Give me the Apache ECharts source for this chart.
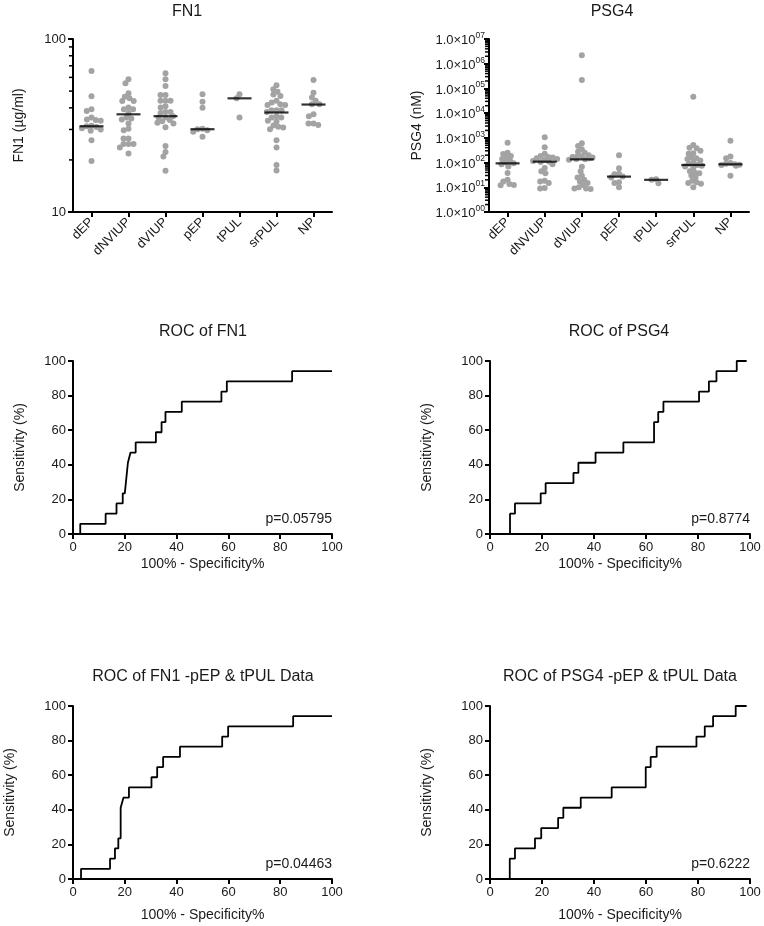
<!DOCTYPE html>
<html><head><meta charset="utf-8">
<script src="https://cdn.jsdelivr.net/npm/echarts@6/dist/echarts.min.js"></script>
<style>html,body{margin:0;padding:0;background:#fff}#c{width:764px;height:926px}</style>
</head><body><div id="c"></div>
<script>
// ---------- DATA ----------
const groups = ['dEP','dNVIUP','dVIUP','pEP','tPUL','srPUL','NP'];

// FN1 (µg/ml)
const fn1_dEP    = [65.3,46.7,39.2,38.4,35.2,34.3,34.0,33.7,31.5,31.3,31.0,30.5,30.0,29.5,26.0,19.7];
const fn1_dNVIUP = [58.5,55.5,48.5,46.4,45.4,43.8,43.8,40.2,39.2,39.2,37.4,35.2,34.7,34.3,32.5,30.3,29.7,26.6,26.6,24.7,24.7,24.7,23.6,21.8];
const fn1_dVIUP  = [63.4,58.5,53.5,47.4,47.4,43.9,43.9,43.9,40.9,40.2,37.9,37.9,37.4,35.8,35.2,35.2,34.0,33.5,32.8,32.5,30.9,24.1,22.2,20.9,17.3];
const fn1_pEP    = [47.9,43.4,40.0,30.3,30.1,29.7,29.1,27.2];
const fn1_tPUL   = [47.9,45.4,35.2];
const fn1_srPUL  = [54.0,51.3,49.5,47.7,46.9,43.9,43.0,42.0,41.5,41.5,38.8,38.8,38.8,37.9,35.8,35.2,35.2,33.7,33.3,31.6,31.1,30.8,30.1,26.0,23.6,18.7,17.4];
const fn1_NP     = [57.9,48.9,45.9,43.9,42.0,42.0,36.7,35.8,32.5,32.5,31.8];
const fn1_median = [31.3,36.7,35.8,30.1,45.4,37.6,41.8];

// PSG4 (nM)
const psg_dEP    = [630,250,220,185,160,140,120,100,93,85,70,38,20,17,13.5,12.3,12];
const psg_dNVIUP = [1050,415,225,185,170,160,150,140,130,115,110,105,85,60,45,37,18.5,17,15,9.3,9];
const psg_dVIUP  = [2.2e6,2.2e5,600,470,350,275,250,200,180,175,170,160,150,140,135,130,68,45,29,25,20,17,15,12.3,10,9,9,8.5];
const psg_pEP    = [200,59,35,34,27,25,16,15,10];
const psg_tPUL   = [21,20,14.5];
const psg_srPUL  = [46000,510,400,380,300,240,230,160,150,140,120,100,90,80,75,70,60,45,40,37,30,25,18.5,16,15,14,10];
const psg_NP     = [770,175,150,95,90,85,82,80,75,29];
const psg_median = [93,109,135,27,20,80,85];

// ROC curves: [100% - specificity%, sensitivity%]
const rocFN1 = [[0,0],[2.8,0],[2.8,5.88],[12.6,5.88],[12.6,11.76],[16.8,11.76],[16.8,17.65],[19.2,17.65],[19.2,23.53],[20.0,23.53],[20.4,29.41],[21.2,41.18],[22.2,47.06],[24.2,47.06],[24.2,52.94],[32.0,52.94],[32.0,58.82],[34.2,58.82],[34.2,64.71],[35.7,64.71],[35.7,70.59],[42.0,70.59],[42.0,76.47],[57.3,76.47],[57.3,82.35],[59.4,82.35],[59.4,88.24],[84.6,88.24],[84.6,94.12],[100,94.12]];
const rocPSG4 = [[0,0],[7.7,0],[7.7,11.76],[9.6,11.76],[9.6,17.65],[19.5,17.65],[19.5,23.53],[21.4,23.53],[21.4,29.41],[32.1,29.41],[32.1,35.29],[34.0,35.29],[34.0,41.18],[40.6,41.18],[40.6,47.06],[51.3,47.06],[51.3,52.94],[63.1,52.94],[63.1,64.71],[64.7,64.71],[64.7,70.59],[66.7,70.59],[66.7,76.47],[80.4,76.47],[80.4,82.35],[84.2,82.35],[84.2,88.24],[87.1,88.24],[87.1,94.12],[94.9,94.12],[94.9,100],[98.7,100]];
const rocFN1b = [[0,0],[3.1,0],[3.1,5.88],[14.3,5.88],[14.3,11.76],[16.2,11.76],[16.2,17.65],[17.5,17.65],[17.5,23.53],[18.4,23.53],[18.4,41.18],[19.5,47.06],[21.6,47.06],[21.6,52.94],[30.3,52.94],[30.3,58.82],[32.5,58.82],[32.5,64.71],[34.8,64.71],[34.8,70.59],[41.3,70.59],[41.3,76.47],[57.6,76.47],[57.6,82.35],[59.9,82.35],[59.9,88.24],[85.0,88.24],[85.0,94.12],[100,94.12]];
const rocPSG4b = [[0,0],[7.6,0],[7.6,11.76],[9.6,11.76],[9.6,17.65],[17.3,17.65],[17.3,23.53],[19.7,23.53],[19.7,29.41],[26.2,29.41],[26.2,35.29],[28.2,35.29],[28.2,41.18],[34.9,41.18],[34.9,47.06],[46.8,47.06],[46.8,52.94],[59.9,52.94],[59.9,64.71],[61.8,64.71],[61.8,70.59],[64.1,70.59],[64.1,76.47],[79.4,76.47],[79.4,82.35],[82.6,82.35],[82.6,88.24],[85.8,88.24],[85.8,94.12],[94.5,94.12],[94.5,100],[98.7,100]];

const titles = ['FN1','PSG4','ROC of FN1','ROC of PSG4','ROC of FN1 -pEP & tPUL Data','ROC of PSG4 -pEP & tPUL Data'];
const pValues = ['p=0.05795','p=0.8774','p=0.04463','p=0.6222'];
const yNames = ['FN1 (µg/ml)','PSG4 (nM)','Sensitivity (%)','Sensitivity (%)','Sensitivity (%)','Sensitivity (%)'];
const xName = '100% - Specificity%';

// ---------- LAYOUT / STYLE ----------
const FONT = "'Liberation Sans', Arial, Helvetica, sans-serif";
const TXT = '#1a1a1a';
const PT = '#a3a3a3';
const grids = [
  {left:73, top:39, width:259, height:173},
  {left:489, top:39, width:260, height:173},
  {left:73, top:361, width:259, height:173},
  {left:490, top:361, width:260, height:173},
  {left:73, top:706, width:259, height:173},
  {left:490, top:706, width:260, height:173}
];
const titlePos = [[187,12],[612,12],[203,332],[619,332],[203,677],[620,677]];
const yNameGap = [47,65,46,56,56,56];
const xNameGap = [0,0,23,23,29,29];

const fn1Groups = [fn1_dEP,fn1_dNVIUP,fn1_dVIUP,fn1_pEP,fn1_tPUL,fn1_srPUL,fn1_NP];
const psgGroups = [psg_dEP,psg_dNVIUP,psg_dVIUP,psg_pEP,psg_tPUL,psg_srPUL,psg_NP];

// minor tick positions of the log axes (2..9 × each decade)
const minorFN1 = [];
for (let m = 2; m <= 9; m++) minorFN1.push(m * 10);
const minorPSG = [];
for (let e = 0; e < 7; e++) for (let m = 2; m <= 9; m++) minorPSG.push(m * Math.pow(10, e));

function axisLine() { return {show:true, onZero:false, lineStyle:{color:'#000', width:2}}; }
function axisTick(len) { return {show:true, length:len, lineStyle:{color:'#000', width:2}}; }
function label(extra) { return Object.assign({color:TXT, fontFamily:FONT, fontSize:13}, extra||{}); }
const nameStyle = {color:TXT, fontFamily:FONT, fontSize:14};

const xAxes = [], yAxes = [];
for (let i = 0; i < 6; i++) {
  if (i < 2) {
    xAxes.push({type:'category', gridIndex:i, data:groups, boundaryGap:true,
      axisLine:axisLine(), axisTick:Object.assign(axisTick(5),{alignWithLabel:true}),
      axisLabel:label({rotate:45, margin:8, interval:0}), splitLine:{show:false}});
  } else {
    xAxes.push({type:'value', gridIndex:i, min:0, max:100, interval:20,
      name:xName, nameLocation:'middle', nameGap:xNameGap[i], nameTextStyle:nameStyle,
      axisLine:axisLine(), axisTick:axisTick(5), axisLabel:label({margin:7}), splitLine:{show:false}});
  }
}
yAxes.push({type:'log', logBase:10, gridIndex:0, min:10, max:100,
  name:yNames[0], nameLocation:'middle', nameRotate:90, nameGap:yNameGap[0], nameTextStyle:nameStyle,
  axisLine:axisLine(), axisTick:axisTick(5), axisLabel:label({margin:7}), splitLine:{show:false}, minorTick:{show:false}});
yAxes.push({type:'log', logBase:10, gridIndex:1, min:1, max:1e7, splitNumber:7,
  name:yNames[1], nameLocation:'middle', nameRotate:90, nameGap:yNameGap[1], nameTextStyle:nameStyle,
  axisLine:axisLine(), axisTick:axisTick(5), splitLine:{show:false},
  axisLabel:{margin:4, formatter:function(v){
      const e = Math.round(Math.log10(v));
      return '{m|1.0×10}{s|' + String(e).padStart(2,'0') + '}';
    },
    rich:{ m:{fontFamily:FONT, fontSize:13, color:TXT, lineHeight:16, verticalAlign:'bottom'},
           s:{fontFamily:FONT, fontSize:8.5, color:TXT, lineHeight:16, verticalAlign:'top'} } }});
for (let i = 2; i < 6; i++) {
  yAxes.push({type:'value', gridIndex:i, min:0, max:100, interval:20,
    name:yNames[i], nameLocation:'middle', nameRotate:90, nameGap:yNameGap[i], nameTextStyle:nameStyle,
    axisLine:axisLine(), axisTick:axisTick(5), axisLabel:label({margin:7}), splitLine:{show:false}});
}

function pointsData(groupArrays, offsets) {
  const out = [];
  groupArrays.forEach(function(arr, ci){
    arr.forEach(function(v, j){
      const item = {value:[ci, v]};
      if (offsets) item.symbolOffset = [offsets[ci][j], 0];
      out.push(item);
    });
  });
  return out;
}
// minor ticks drawn with a custom series through the y axis' own log scale
function minorTickSeries(idx, vals) {
  return {type:'custom', coordinateSystem:'cartesian2d', xAxisIndex:idx, yAxisIndex:idx, silent:true, z:10, clip:false,
    encode:{x:0, y:1},
    data: vals.map(function(v){ return [groups[0], v]; }),
    renderItem: function(params, api){
      const p = api.coord([api.value(0), api.value(1)]);
      const g = grids[idx];
      return {type:'line', z2:10, shape:{x1:g.left - 4, y1:p[1], x2:g.left, y2:p[1]},
        style:{stroke:'#000', lineWidth:1.5, fill:null}};
    }};
}
function medianSeries(idx, meds) {
  return {type:'scatter', xAxisIndex:idx, yAxisIndex:idx, symbol:'rect', symbolSize:[24,2.2], z:4,
    itemStyle:{color:'#000'}, silent:true, data: meds.map(function(m, ci){ return [ci, m]; })};
}
function rocSeries(idx, pts) {
  return {type:'line', xAxisIndex:idx, yAxisIndex:idx, data:pts, symbol:'none', silent:true, clip:false,
    lineStyle:{color:'#000', width:1.8}, z:3};
}

const graphics = [];
titles.forEach(function(t, i){
  graphics.push({type:'text', x:titlePos[i][0], y:titlePos[i][1], silent:true,
    style:{text:t, font:'16px ' + FONT, fill:TXT, align:'center', verticalAlign:'middle'}});
});
pValues.forEach(function(p, k){
  const g = grids[k+2];
  graphics.push({type:'text', x:g.left + g.width, y:g.top + g.height - 15, silent:true,
    style:{text:p, font:'14px ' + FONT, fill:TXT, align:'right', verticalAlign:'middle'}});
});

const chart = echarts.init(document.getElementById('c'), null, {renderer:'canvas'});
chart.setOption({
  animation:false,
  backgroundColor:'#fff',
  grid: grids,
  xAxis: xAxes,
  yAxis: yAxes,
  graphic: graphics,
  series: [
    {id:'fn1pts', type:'scatter', xAxisIndex:0, yAxisIndex:0, symbolSize:6, clip:false, itemStyle:{color:PT, opacity:1}, z:2, data:pointsData(fn1Groups)},
    medianSeries(0, fn1_median),
    minorTickSeries(0, minorFN1),
    {id:'psgpts', type:'scatter', xAxisIndex:1, yAxisIndex:1, symbolSize:6, clip:false, itemStyle:{color:PT, opacity:1}, z:2, data:pointsData(psgGroups)},
    medianSeries(1, psg_median),
    minorTickSeries(1, minorPSG),
    rocSeries(2, rocFN1),
    rocSeries(3, rocPSG4),
    rocSeries(4, rocFN1b),
    rocSeries(5, rocPSG4b)
  ]
});

// beeswarm-style horizontal spreading, computed from the axes' own pixel mapping
function swarm(gridIdx, ci, values, D, lim) {
  const placed = [];
  const order = values.map(function(v,i){return i;}).sort(function(a,b){return values[b]-values[a];});
  const offsets = new Array(values.length);
  order.forEach(function(i){
    const py = chart.convertToPixel({gridIndex:gridIdx}, [ci, values[i]])[1];
    const forb = [];
    const cands = [0];
    placed.forEach(function(p){
      const dy = Math.abs(p.y - py);
      if (dy < D) { const w = Math.sqrt(D*D - dy*dy); forb.push([p.x - w, p.x + w]); cands.push(p.x - w, p.x + w); }
    });
    cands.sort(function(a,b){ return Math.abs(a) - Math.abs(b) || a - b; });
    let x = null;
    for (const c of cands) {
      if (Math.abs(c) > lim) break;
      if (forb.every(function(f){ return c <= f[0] + 1e-6 || c >= f[1] - 1e-6; })) { x = c; break; }
    }
    if (x === null) { x = ((placed.length % 2) ? -1 : 1) * (lim - (placed.length % 5) * 2.5); }
    placed.push({x:x, y:py});
    offsets[i] = x;
  });
  return offsets;
}
const fn1Off = fn1Groups.map(function(arr, ci){ return swarm(0, ci, arr, 5.0, 13); });
const psgOff = psgGroups.map(function(arr, ci){ return swarm(1, ci, arr, 4.6, 13); });
chart.setOption({series:[
  {id:'fn1pts', data:pointsData(fn1Groups, fn1Off)},
  {id:'psgpts', data:pointsData(psgGroups, psgOff)}
]});
</script>
</body></html>
